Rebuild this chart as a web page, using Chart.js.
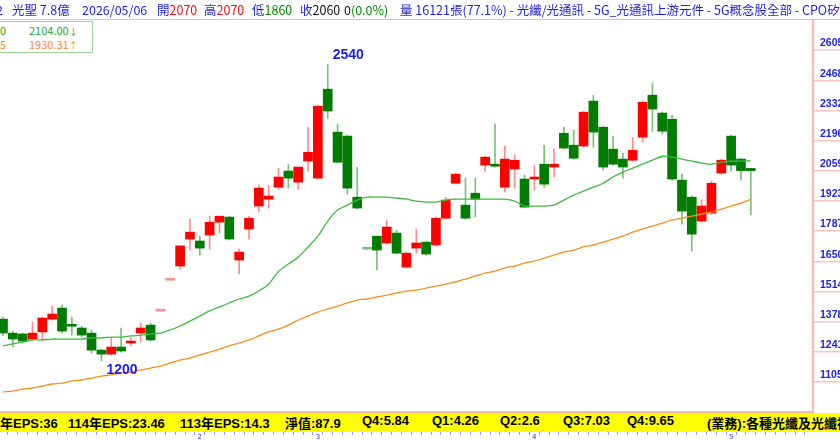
<!DOCTYPE html>
<html>
<head>
<meta charset="utf-8">
<script src="https://cdn.jsdelivr.net/npm/chart.js@4.4.1/dist/chart.umd.min.js"></script>
<style>
html, body { margin: 0; padding: 0; background: #fff; }
#wrap { position: relative; width: 840px; height: 440px; overflow: hidden; font-family: "Noto Sans CJK TC", "Noto Sans", sans-serif; }
#c { position: absolute; left: 0; top: 0; }
.hd { position: absolute; top: 0; height: 19px; line-height: 19px; font-size: 12.5px; color: #1f1fd8; white-space: pre; }
.r { color: #ee1111; }
.g { color: #008800; }
.k { color: #111; }
#hline { position: absolute; left: 0; top: 19px; width: 840px; height: 1px; background: #ffb4a8; }
#legend { position: absolute; left: -1px; top: 21px; width: 92px; height: 30px; border: 1px solid #9bd49b; background: #fff; font-size: 11px; }
#legend div { position: absolute; white-space: pre; line-height: 13px; }
#eps { position: absolute; left: 0; top: 413px; width: 840px; height: 19px; background: #ffff00; }
#eps span { position: absolute; top: 0; line-height: 19px; font: bold 13px "Liberation Sans", "Noto Sans CJK TC", sans-serif; color: #000; white-space: pre; }
</style>
</head>
<body>
<div id="wrap">
  <canvas id="c" width="840" height="440"></canvas>
  <div id="hline"></div>
  <div class="hd" style="left:-4px">2</div>
  <div class="hd" style="left:12px">光聖 7.8億</div>
  <div class="hd" style="left:82px">2026/05/06</div>
  <div class="hd" style="left:157px">開<span class="r">2070</span></div>
  <div class="hd" style="left:204px">高<span class="r">2070</span></div>
  <div class="hd" style="left:252px">低<span class="g">1860</span></div>
  <div class="hd" style="left:300px">收<span class="k">2060</span></div>
  <div class="hd" style="left:344px"><span class="k">0</span><span class="g">(0.0%)</span></div>
  <div class="hd" style="left:400px">量 16121張(77.1%) - 光纖/光通訊 - 5G_光通訊上游元件 - 5G概念股全部 - CPO矽光子</div>
  <div id="legend">
    <div style="left:0;top:2px;color:#22a822">0</div>
    <div style="left:29px;top:2px;color:#22a822">2104.00<span style="font-size:9px">↓</span></div>
    <div style="left:0;top:16px;color:#ff8a1e">5</div>
    <div style="left:29px;top:16px;color:#ff8a1e">1930.31<span style="font-size:9px">↑</span></div>
  </div>
  <div id="eps">
    <span style="left:0px">年EPS:36</span>
    <span style="left:68px">114年EPS:23.46</span>
    <span style="left:180px">113年EPS:14.3</span>
    <span style="left:285px">淨值:87.9</span>
    <span style="left:362px">Q4:5.84</span>
    <span style="left:432px">Q1:4.26</span>
    <span style="left:500px">Q2:2.6</span>
    <span style="left:563px">Q3:7.03</span>
    <span style="left:627px">Q4:9.65</span>
    <span style="left:707px">(業務):各種光纖及光纖被動元件</span>
  </div>
</div>
<script>
// daily candles, oldest first (last one = 2026/05/06)
const opens  = [1389,1326,1322,1299,1331,1389,1439,1362,1349,1326,1249,1231,1263,1281,1326,1362,1425,1565,1629,1751,
                1742,1769,1827,1850,1656,1796,1900,1931,1985,2058,2008,2103,2026,2428,2234,2216,1940,1705,1764,1733,
                1778,1624,1710,1737,1724,1845,2003,1904,1958,2085,2085,1985,2067,2022,2022,2089,2076,2229,2175,2171,
                2374,2256,2157,2112,2107,2211,2401,2320,2292,2017,1940,1832,1868,2049,2216,2112,2070];
const highs  = [1398,1335,1326,1376,1398,1448,1453,1398,1358,1340,1254,1308,1349,1308,1371,1371,1425,1565,1720,1841,
                1764,1854,1854,1854,1705,1854,1994,1994,2071,2089,2076,2256,2356,2540,2270,2220,2076,1705,1764,1836,
                1791,1692,1796,1742,1850,1940,2049,2026,2026,2125,2270,2171,2130,2040,2085,2175,2157,2256,2243,2329,
                2401,2261,2216,2139,2211,2374,2455,2324,2310,2044,1945,1927,2013,2112,2220,2116,2070];
const lows   = [1313,1263,1281,1295,1290,1385,1326,1317,1308,1236,1200,1227,1240,1268,1286,1290,1425,1565,1615,1701,
                1678,1705,1778,1746,1593,1751,1873,1891,1976,1981,1976,2058,2021,2297,2094,1954,1886,1705,1611,1728,
                1683,1620,1687,1678,1719,1841,1999,1841,1850,2058,2076,1963,1981,1891,1972,1985,2031,2157,2112,2166,
                2166,2062,2085,2026,2103,2189,2238,2225,2017,1818,1697,1827,1863,2044,2058,2017,1860];
const closes = [1326,1299,1290,1326,1394,1412,1335,1357,1317,1249,1231,1263,1245,1286,1349,1295,1425,1565,1720,1782,
                1710,1827,1854,1751,1692,1845,1981,1945,2031,2026,2076,2143,2351,2329,2098,1981,1891,1705,1701,1805,
                1687,1687,1733,1683,1845,1927,2044,1845,1931,2121,2080,2112,2107,1895,2026,1999,2089,2162,2116,2324,
                2234,2076,2089,2076,2152,2369,2338,2238,2022,1877,1773,1900,2003,2107,2085,2060,2060];

// moving averages
const maShort = [1268,1277,1286,1295,1295,1299,1299,1299,1299,1304,1304,1308,1308,1313,1317,1322,1326,1340,1358,1380,
                 1403,1426,1444,1462,1480,1493,1516,1547,1605,1638,1669,1715,1764,1832,1882,1904,1927,1940,1940,1940,
                 1936,1931,1922,1918,1918,1927,1931,1931,1931,1931,1931,1931,1922,1900,1900,1900,1904,1927,1949,1967,
                 1985,2003,2031,2053,2071,2089,2107,2125,2121,2112,2103,2094,2089,2098,2103,2103,2104];
const maLong  = [1060,1064,1073,1078,1087,1096,1100,1110,1114,1123,1132,1137,1146,1150,1159,1168,1177,1191,1204,1213,
                 1227,1240,1254,1268,1281,1295,1313,1331,1344,1362,1385,1403,1421,1435,1448,1462,1475,1480,1489,1498,
                 1507,1516,1520,1529,1538,1547,1557,1570,1584,1597,1606,1620,1629,1642,1651,1665,1678,1692,1701,1715,
                 1724,1737,1751,1764,1782,1796,1809,1823,1836,1845,1854,1864,1873,1886,1900,1913,1930];

const yTicks = [2605, 2468, 2332, 2196, 2059, 1923, 1787, 1650, 1514, 1378, 1241, 1105];
const monthPos = [20, 32, 54, 74];
const monthNames = ['2', '3', '4', '5'];

const UP = '#ff0000', DOWN = '#007c00', UP_W = '#ff8c8c', DOWN_W = '#76c276';

// up / down (equal open-close -> compare with previous close)
const dir = closes.map((c, i) => c > opens[i] ? 1 : c < opens[i] ? -1 : (i > 0 && c < closes[i-1] ? -1 : 1));
const bodyColors = dir.map((d, i) => opens[i] === closes[i] ? (d > 0 ? UP_W : DOWN_W) : (d > 0 ? UP : DOWN));
const wickColors = dir.map(d => d > 0 ? UP_W : DOWN_W);

const hiLoLabels = {
    id: 'hiLo',
    afterDatasetsDraw(chart) {
        const {ctx, scales: {x, y}} = chart;
        const hi = highs.indexOf(Math.max(...highs));
        const lo = lows.indexOf(Math.min(...lows));
        ctx.save();
        ctx.font = 'bold 14px "Liberation Sans", Arial, sans-serif';
        ctx.fillStyle = '#1a1aee';
        ctx.textBaseline = 'middle';
        ctx.fillText(String(highs[hi]), x.getPixelForValue(hi) + 5, y.getPixelForValue(highs[hi]) - 9);
        ctx.fillText(String(lows[lo]), x.getPixelForValue(lo) + 5, y.getPixelForValue(lows[lo]) + 9);
        ctx.restore();
    }
};

new Chart(document.getElementById('c'), {
    type: 'bar',
    data: {
        datasets: [
            {
                type: 'line',
                data: maShort.map((v, i) => ({x: i, y: v})),
                borderColor: '#3cbc3c',
                borderWidth: 1.3,
                pointRadius: 0,
                tension: 0.3,
                order: 0
            },
            {
                type: 'line',
                data: maLong.map((v, i) => ({x: i, y: v})),
                borderColor: '#ff8c1a',
                borderWidth: 1.3,
                pointRadius: 0,
                tension: 0.3,
                order: 0
            },
            {
                data: opens.map((o, i) => ({x: i, y: [o, closes[i]]})),
                backgroundColor: bodyColors,
                barThickness: 9,
                minBarLength: 2,
                grouped: false,
                order: 1
            },
            {
                data: lows.map((l, i) => ({x: i, y: [l, highs[i]]})),
                backgroundColor: wickColors,
                barThickness: 1,
                grouped: false,
                order: 2
            }
        ]
    },
    options: {
        responsive: false,
        animation: false,
        devicePixelRatio: 1,
        layout: { padding: { top: 20, left: 0, right: 0, bottom: 0 } },
        plugins: { legend: { display: false }, tooltip: { enabled: false } },
        scales: {
            x: {
                type: 'linear',
                min: -0.305,
                max: 82.32,
                offset: false,
                afterFit: s => { s.height = 28; },
                afterBuildTicks: s => { s.ticks = Array.from({length: 83}, (_, i) => ({value: i})); },
                border: { color: '#ffb4a8', width: 2 },
                grid: { drawOnChartArea: false, color: '#9a9aff', tickLength: 23, lineWidth: 1 },
                ticks: {
                    autoSkip: false,
                    maxRotation: 0,
                    padding: -2,
                    color: '#3030e0',
                    font: { size: 7, family: 'DejaVu Sans' },
                    callback: v => { const k = monthPos.indexOf(v); return k >= 0 ? monthNames[k] : ''; }
                }
            },
            y: {
                position: 'right',
                min: 969.5,
                max: 2740.5,
                afterFit: s => { s.width = 27; },
                afterBuildTicks: s => { s.ticks = yTicks.map(v => ({value: v})); },
                border: { color: '#ffb4a8', width: 2 },
                grid: { drawOnChartArea: false, color: '#ffc4bc', tickLength: 27, lineWidth: 1.5 },
                ticks: {
                    padding: -20,
                    labelOffset: -6.5,
                    crossAlign: 'near',
                    color: '#2222dd',
                    font: { size: 10.5, weight: 'bold', family: '"Liberation Sans", Arial, sans-serif' },
                    callback: (v, idx) => String(yTicks[idx])
                }
            }
        }
    },
    plugins: [hiLoLabels]
});
</script>
</body>
</html>
